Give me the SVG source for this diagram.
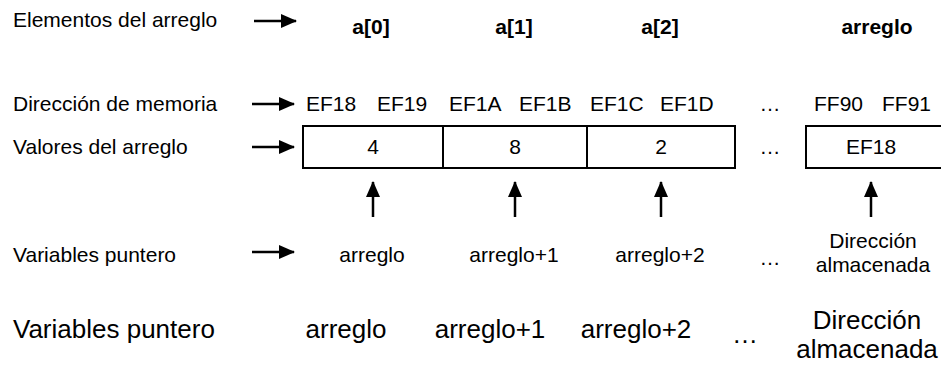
<svg xmlns="http://www.w3.org/2000/svg" width="941" height="365" viewBox="0 0 941 365">
  <style>
    text { font-family: "Liberation Sans", Arial, sans-serif; fill: #000; }
    .lbl { font-size: 21px; }
    .b { font-size: 21px; font-weight: bold; text-anchor: middle; }
    .c { font-size: 21px; text-anchor: middle; }
    .big { font-size: 26px; }
    .bigc { font-size: 26px; text-anchor: middle; }
    .cell { fill: #fff; stroke: #000; stroke-width: 2; }
    .arr { stroke: #000; stroke-width: 2.5; fill: none; marker-end: url(#head); }
  </style>
  <defs>
    <marker id="head" markerUnits="userSpaceOnUse" markerWidth="18" markerHeight="16" refX="15" refY="8" orient="auto">
      <path d="M0,1 L16,8 L0,15 Z" fill="#000"/>
    </marker>
  </defs>

  <rect width="941" height="365" fill="#fff"/>

  <!-- row captions -->
  <g id="captions">
    <text class="lbl" x="13" y="27">Elementos del arreglo</text>
    <text class="lbl" x="13" y="111">Dirección de memoria</text>
    <text class="lbl" x="13" y="154">Valores del arreglo</text>
    <text class="lbl" x="13" y="262">Variables puntero</text>
  </g>

  <!-- element names -->
  <g id="elements">
    <text class="b" x="371" y="34">a[0]</text>
    <text class="b" x="514" y="34">a[1]</text>
    <text class="b" x="660" y="34">a[2]</text>
    <text class="b" x="877" y="34">arreglo</text>
  </g>

  <!-- memory addresses -->
  <g id="addresses">
    <text class="lbl" x="306" y="111">EF18</text>
    <text class="lbl" x="377" y="111">EF19</text>
    <text class="lbl" x="449" y="111">EF1A</text>
    <text class="lbl" x="519" y="111">EF1B</text>
    <text class="lbl" x="590" y="111">EF1C</text>
    <text class="lbl" x="660" y="111">EF1D</text>
    <text class="c" x="770" y="111">…</text>
    <text class="lbl" x="814" y="111">FF90</text>
    <text class="lbl" x="882" y="111">FF91</text>
  </g>

  <!-- array cells -->
  <g id="cell-0">
    <rect class="cell" x="303" y="126" width="140" height="42"/>
    <text class="c" x="373" y="154">4</text>
  </g>
  <g id="cell-1">
    <rect class="cell" x="443" y="126" width="144" height="42"/>
    <text class="c" x="515" y="154">8</text>
  </g>
  <g id="cell-2">
    <rect class="cell" x="587" y="126" width="148" height="42"/>
    <text class="c" x="661" y="154">2</text>
  </g>
  <g id="gap">
    <text class="c" x="770" y="154">…</text>
  </g>
  <g id="cell-ptr">
    <rect class="cell" x="806" y="126" width="140" height="42"/>
    <text class="c" x="871" y="154">EF18</text>
  </g>

  <!-- pointer variables -->
  <g id="pointers">
    <text class="c" x="372" y="262">arreglo</text>
    <text class="c" x="514" y="262">arreglo+1</text>
    <text class="c" x="660" y="262">arreglo+2</text>
    <text class="c" x="770" y="265">…</text>
    <text class="c" y="248"><tspan x="873">Dirección</tspan><tspan x="873" dy="24">almacenada</tspan></text>
  </g>

  <!-- enlarged pointer row -->
  <g id="pointers-large">
    <text class="big" x="13" y="338">Variables puntero</text>
    <text class="bigc" x="346" y="338">arreglo</text>
    <text class="bigc" x="490" y="338">arreglo+1</text>
    <text class="bigc" x="636" y="338">arreglo+2</text>
    <text class="bigc" x="745" y="343">…</text>
    <text class="bigc" y="329"><tspan x="867">Dirección</tspan><tspan x="867" dy="29">almacenada</tspan></text>
  </g>

  <!-- arrows -->
  <g id="connectors">
    <line class="arr" x1="254" y1="21" x2="296" y2="21"/>
    <line class="arr" x1="252" y1="104" x2="294" y2="104"/>
    <line class="arr" x1="252" y1="147" x2="294" y2="147"/>
    <line class="arr" x1="252" y1="252" x2="294" y2="252"/>
    <line class="arr" x1="373" y1="217" x2="373" y2="182"/>
    <line class="arr" x1="515" y1="217" x2="515" y2="182"/>
    <line class="arr" x1="661" y1="217" x2="661" y2="182"/>
    <line class="arr" x1="871" y1="217" x2="871" y2="182"/>
  </g>
</svg>
